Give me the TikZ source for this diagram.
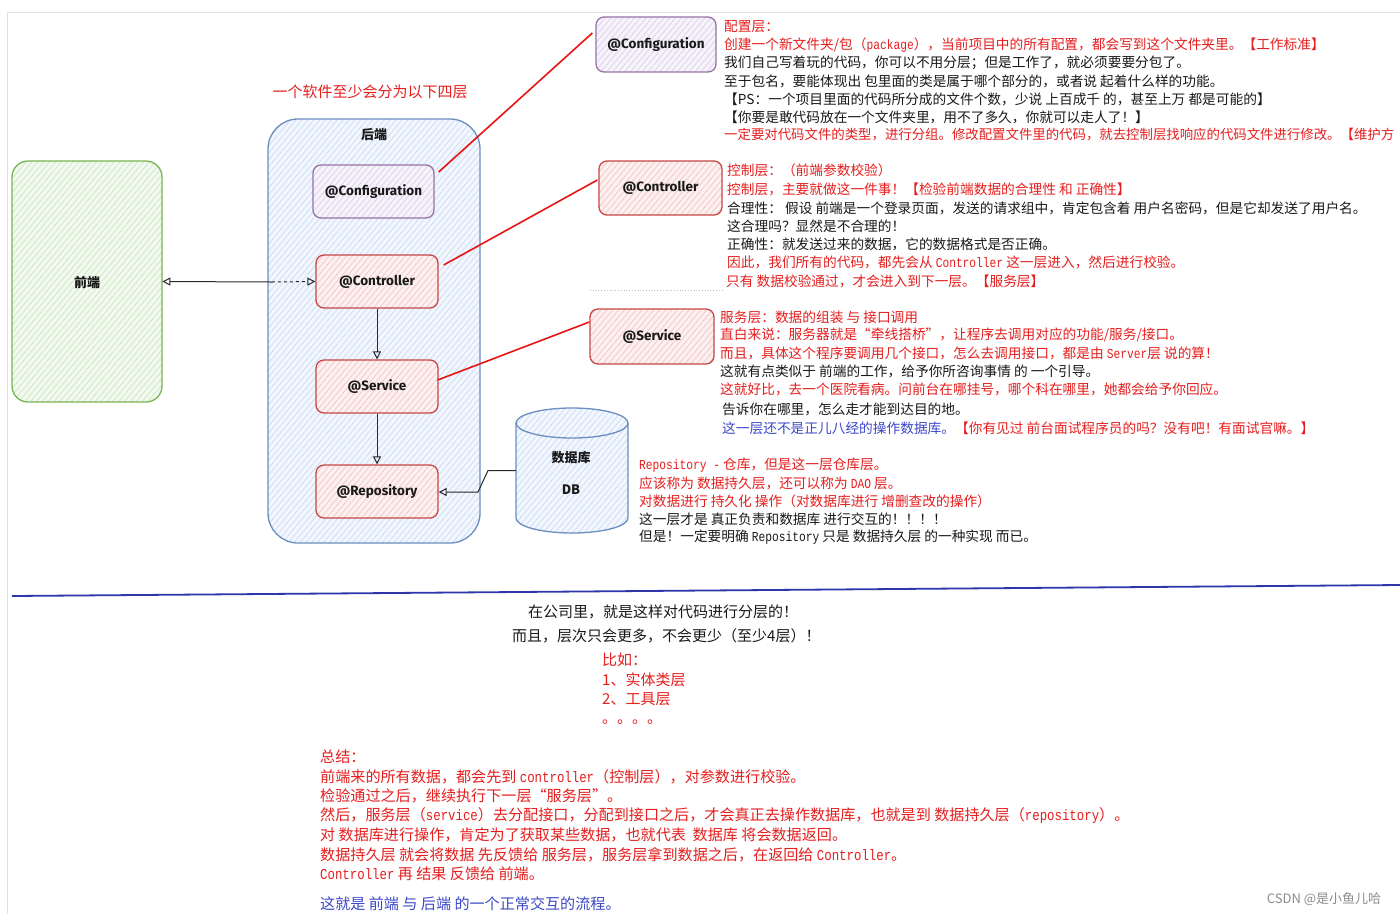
\documentclass[tikz,border=0pt]{standalone}
\usepackage{fontspec}
\setmainfont{Noto Sans CJK SC}
\newfontfamily\boxfont{Fira Sans}
\newfontfamily\monof{Liberation Mono}[FakeStretch=0.82]
\usetikzlibrary{arrows.meta,patterns.meta}
\definecolor{txtred}{RGB}{230,30,30}
\definecolor{txtblue}{RGB}{60,72,200}
\definecolor{txtblk}{RGB}{25,25,25}
\definecolor{gstroke}{RGB}{120,180,80}
\definecolor{gfill}{RGB}{190,225,175}
\definecolor{bstroke}{RGB}{108,142,191}
\definecolor{bfill}{RGB}{190,210,245}
\definecolor{pstroke}{RGB}{150,115,166}
\definecolor{pfill}{RGB}{210,195,228}
\definecolor{rstroke}{RGB}{200,70,70}
\definecolor{rfill}{RGB}{242,180,180}
\definecolor{linered}{RGB}{232,20,20}
\definecolor{divblue}{RGB}{45,55,170}
\definecolor{conncol}{RGB}{40,40,40}
\tikzset{
  hatch/.style={preaction={fill=#1!20}, pattern={Lines[angle=50,distance=4.5pt,line width=0.7pt]}, pattern color=#1!80},
  lbox/.style={draw, rounded corners=8pt, line width=1.3pt, minimum width=121pt, minimum height=53pt,
    inner sep=0pt, font=\boxfont\bfseries\fontsize{13.5}{15}\selectfont, text=txtblk},
  purplebox/.style={lbox, draw=pstroke, hatch=pfill},
  redbox/.style={lbox, draw=rstroke, hatch=rfill},
  conn/.style={draw=conncol, line width=1pt},
  redln/.style={draw=linered, line width=1.6pt},
  tline/.style={anchor=west, inner sep=0pt, font=\fontsize{13.7}{16}\selectfont, text=txtblk},
  rt/.style={tline, text=txtred},
  bt/.style={tline, text=txtblue},
  bline/.style={anchor=west, inner sep=0pt, font=\fontsize{15}{18}\selectfont, text=txtblk},
  brt/.style={bline, text=txtred},
  sline/.style={anchor=west, inner sep=0pt, font=\fontsize{15.1}{18}\selectfont, text=txtred},
  boldlab/.style={inner sep=0pt, font=\bfseries\fontsize{13}{15}\selectfont, text=txtblk}
}
\begin{document}
\begin{tikzpicture}[x=1pt, y=-1pt]
\useasboundingbox (0,0) rectangle (1400,914);
\fill[white] (0,0) rectangle (1400,914);
% screenshot border
\draw[black!12, line width=1pt] (7,914) -- (7,12) -- (1400,12);
\draw[black!25, dotted, line width=0.8pt] (590,290) -- (722,290);

% title
\node[inner sep=0pt, font=\fontsize{15}{18}\selectfont, text=txtred] (title) at (370,92) {一个软件至少会分为以下四层};

% frontend
\node[draw=gstroke, line width=1.3pt, rounded corners=16pt, hatch=gfill, minimum width=150pt, minimum height=241pt] (fe) at (87,281.5) {};
\node[boldlab] (feLab) at (87,283) {前端};

% backend container
\node[draw=bstroke, line width=1.3pt, rounded corners=30pt, hatch=bfill, minimum width=212pt, minimum height=424pt] (be) at (374,331) {};
\node[boldlab] (beLab) at (374,135) {后端};

% layer boxes
\node[purplebox] (cfg) at (373.5,191.5) {@Configuration};
\node[redbox, minimum width=122pt] (ctl) at (377,281.5) {@Controller};
\node[redbox, minimum width=122pt] (svc) at (377,386.5) {@Service};
\node[redbox, minimum width=122pt] (repo) at (377,491.5) {@Repository};

% database cylinder
\node[minimum width=112pt, minimum height=125pt, inner sep=0pt] (db) at (572,470.5) {};
\path[hatch=bfill] (516,423) -- (516,518) .. controls (516,526.3) and (541,533) .. (572,533)
   .. controls (603,533) and (628,526.3) .. (628,518) -- (628,423) -- cycle;
\fill[hatch=bfill] (572,423) ellipse [x radius=56, y radius=15];
\draw[bstroke, line width=1.3pt] (516,423) -- (516,518) .. controls (516,526.3) and (541,533) .. (572,533)
   .. controls (603,533) and (628,526.3) .. (628,518) -- (628,423);
\draw[bstroke, line width=1.3pt] (572,423) ellipse [x radius=56, y radius=15];
\node[boldlab] (dbLab1) at (571,458) {数据库};
\node[boldlab] (dbLab2) at (571,490) {DB};

% connectors
\coordinate (mid) at (272,282);
\draw[conn, {Triangle[open, length=8pt, width=8pt]}-] (fe.east) -- (mid);
\draw[conn, dashed, -{Triangle[open, length=8pt, width=8pt]}] (mid) -- (ctl.west);
\draw[conn, -{Triangle[open, length=8pt, width=8pt]}] (ctl.south) -- (svc.north);
\draw[conn, -{Triangle[open, length=8pt, width=8pt]}] (svc.south) -- (repo.north);
\coordinate (k1) at (488,470.5);
\coordinate (k2) at (478,492);
\draw[conn, -{Triangle[open, length=8pt, width=8pt]}] (db.west) -- (k1) -- (k2) -- (repo.east |- k2);

% right-hand boxes
\node[purplebox, minimum width=120pt, minimum height=55pt] (cfgR) at (656,44.5) {@Configuration};
\node[redbox, minimum width=123pt, minimum height=54pt] (ctlR) at (660.5,188) {@Controller};
\node[redbox, minimum width=124pt, minimum height=55pt] (svcR) at (652,336.5) {@Service};

% red leaders
\draw[redln] ([xshift=4pt,yshift=19.5pt]cfg.east) -- ([xshift=-3pt,yshift=11.5pt]cfgR.west);
\draw[redln] ([xshift=5pt,yshift=16.5pt]ctl.east) -- ([xshift=-1pt,yshift=8pt]ctlR.west);
\draw[redln] ([xshift=-1pt,yshift=6.5pt]svc.east) -- ([yshift=14.5pt]svcR.west);

% block 1: configuration
\node[rt] (a1) at (724,27) {配置层：};
\node[rt] (a2) at (724,45) {创建一个新文件夹/包（{\monof package}），当前项目中的所有配置，都会写到这个文件夹里。【工作标准】};
\node[tline] (a3) at (724,63) {我们自己写着玩的代码，你可以不用分层；但是工作了，就必须要要分包了。};
\node[tline] (a4) at (724,81) {至于包名，要能体现出 包里面的类是属于哪个部分的，或者说 起着什么样的功能。};
\node[tline] (a5) at (724,99) {【PS：一个项目里面的代码所分成的文件个数，少说 上百成千 的，甚至上万 都是可能的】};
\node[tline] (a6) at (724,117) {【你要是敢代码放在一个文件夹里，用不了多久，你就可以走人了！】};
\node[rt, font=\fontsize{13.4}{16}\selectfont] (a7) at (724,135) {一定要对代码文件的类型，进行分组。修改配置文件里的代码，就去控制层找响应的代码文件进行修改。【维护方};

% block 2: controller
\node[rt] (b1) at (727,170) {控制层：（前端参数校验）};
\node[rt] (b2) at (727,189) {控制层，主要就做这一件事！【检验前端数据的合理性 和 正确性】};
\node[tline] (b3) at (727,208) {合理性： 假设 前端是一个登录页面，发送的请求组中，肯定包含着 用户名密码，但是它却发送了用户名。};
\node[tline] (b4) at (727,226) {这合理吗？显然是不合理的！};
\node[tline] (b5) at (727,244) {正确性：就发送过来的数据，它的数据格式是否正确。};
\node[rt] (b6) at (727,262) {因此，我们所有的代码，都先会从 {\monof Controller} 这一层进入，然后进行校验。};
\node[rt] (b7) at (726,281) {只有 数据校验通过，才会进入到下一层。【服务层】};

% block 3: service
\node[rt] (c1) at (720,317) {服务层：数据的组装 与 接口调用};
\node[rt] (c2) at (720,335) {直白来说：服务器就是“牵线搭桥”，让程序去调用对应的功能/服务/接口。};
\node[rt] (c3) at (720,353) {而且，具体这个程序要调用几个接口，怎么去调用接口，都是由 {\monof Server}层 说的算！};
\node[tline] (c4) at (720,371) {这就有点类似于 前端的工作，给予你所咨询事情 的 一个引导。};
\node[rt] (c5) at (720,389) {这就好比，去一个医院看病。问前台在哪挂号，哪个科在哪里，她都会给予你回应。};
\node[tline] (c6) at (722,409) {告诉你在哪里，怎么走才能到达目的地。};
\node[bt] (c7) at (722,428) {这一层还不是正儿八经的操作数据库。\textcolor{txtred}{【你有见过 前台面试程序员的吗？没有吧！有面试官嘛。】}};

% block 4: repository
\node[rt] (d1) at (639,465) {{\monof Repository -} 仓库，但是这一层仓库层。};
\node[rt] (d2) at (639,483) {应该称为 数据持久层，还可以称为 {\monof DAO} 层。};
\node[rt] (d3) at (639,501) {对数据进行 持久化 操作（对数据库进行 增删查改的操作）};
\node[tline] (d4) at (639,519) {这一层才是 真正负责和数据库 进行交互的！！！！};
\node[tline] (d5) at (639,537) {但是！一定要明确 {\monof Repository} 只是 数据持久层 的一种实现 而已。};

% divider
\draw[divblue, line width=1.8pt] (12,596) -- (1400,585);

% lower block
\node[bline] (e1) at (528,612) {在公司里，就是这样对代码进行分层的！};
\node[bline] (e2) at (512,636) {而且，层次只会更多，不会更少（至少4层）！};
\node[brt] (e3) at (602,660) {比如：};
\node[brt] (e4) at (602,680) {1、实体类层};
\node[brt] (e5) at (602,699) {2、工具层};
\node[brt] (e6) at (602,722) {。。。。};

% summary
\node[sline] (f1) at (320,757) {总结：};
\node[sline] (f2) at (320,777) {前端来的所有数据，都会先到 {\monof controller}（控制层），对参数进行校验。};
\node[sline] (f3) at (320,796) {检验通过之后，继续执行下一层“服务层”。};
\node[sline] (f4) at (320,816) {然后，服务层（{\monof service}）去分配接口，分配到接口之后，才会真正去操作数据库，也就是到 数据持久层（{\monof repository}）。};
\node[sline] (f5) at (320,835) {对 数据库进行操作，肯定为了获取某些数据，也就代表 \ 数据库 将会数据返回。};
\node[sline] (f6) at (320,855) {数据持久层 就会将数据 先反馈给 服务层，服务层拿到数据之后，在返回给 {\monof Controller}。};
\node[sline] (f7) at (320,874) {{\monof Controller} 再 结果 反馈给 前端。};
\node[sline, text=txtblue] (f8) at (320,904) {这就是 前端 与 后端 的一个正常交互的流程。};

% watermark
\node[inner sep=0pt, font=\fontsize{13}{15}\selectfont, text=black!45] (wm) at (1324,899) {CSDN @是小鱼儿哈};
\end{tikzpicture}
\end{document}
